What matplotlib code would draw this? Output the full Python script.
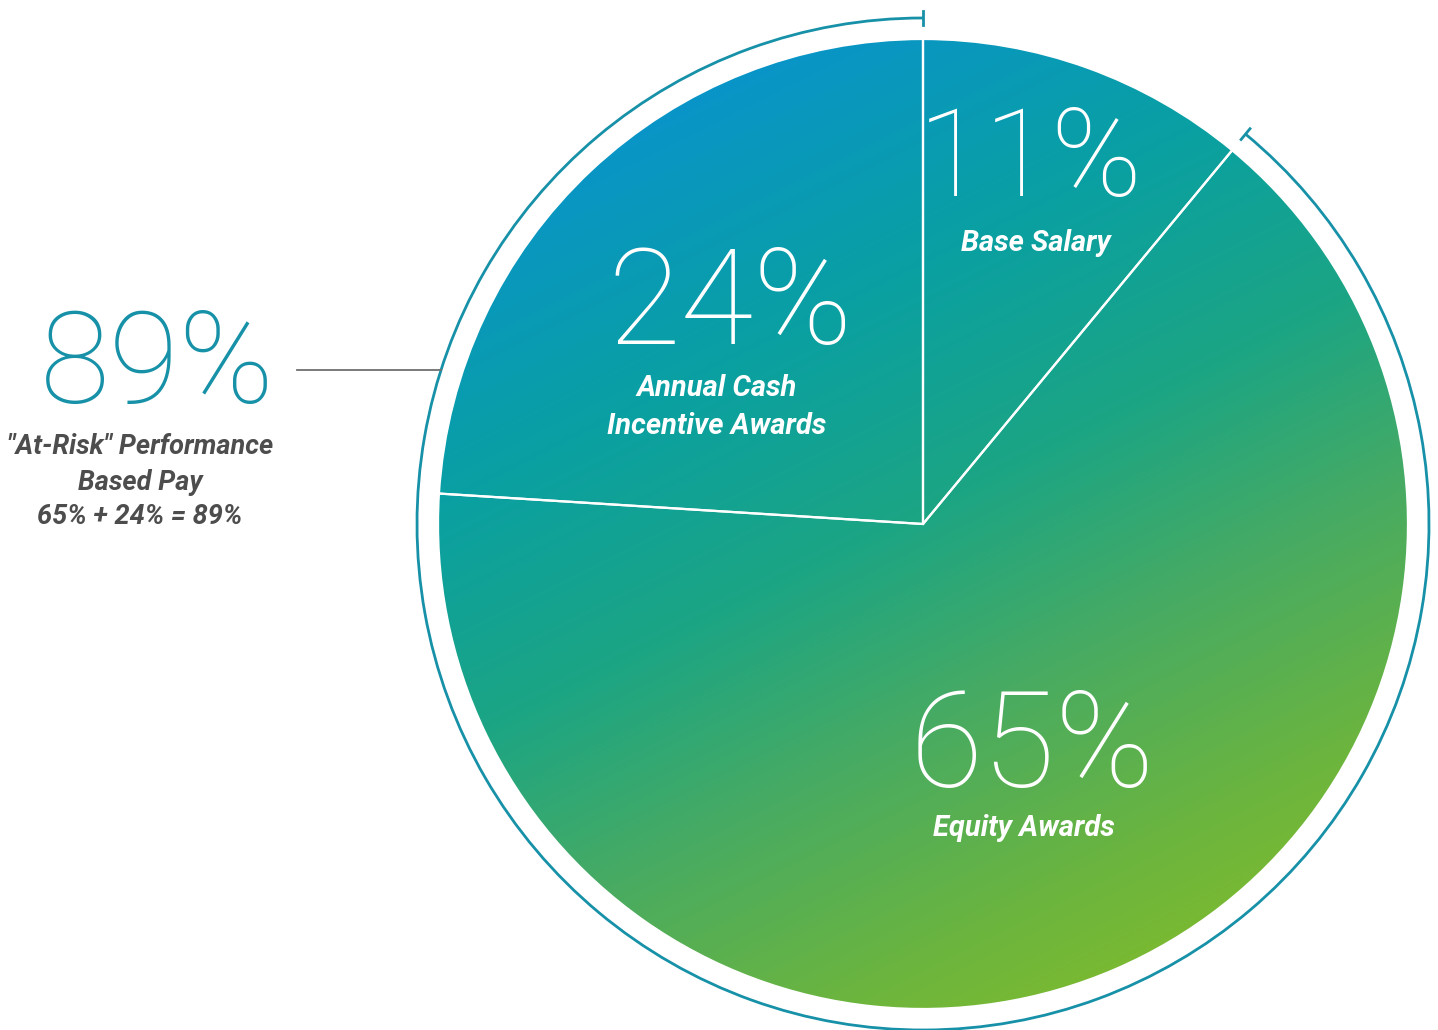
import numpy as np
import matplotlib
matplotlib.use("Agg")
import matplotlib.pyplot as plt
from matplotlib.patches import Circle, Arc
from matplotlib.colors import LinearSegmentedColormap

# data
labels = ["Base Salary", "Equity Awards", "Annual Cash\nIncentive Awards"]
shares = [11, 65, 24]
pct_text = ["11%", "65%", "24%"]
at_risk = 89
at_risk_lines = ['"At-Risk" Performance', "Based Pay", "65% + 24% = 89%"]

W, H = 1438, 1030
fig = plt.figure(figsize=(W / 100, H / 100), dpi=100)
ax = fig.add_axes([0, 0, 1, 1])

cx, cy, r = 923, H - 524, 485
r_arc = 506
teal = "#1791a8"

# gradient fill clipped to the pie disc (mostly top -> bottom, a bit left -> right)
gx = np.linspace(cx - r, cx + r, 400)
gy = np.linspace(cy - r, cy + r, 400)
X, Y = np.meshgrid(gx, gy)
t = (0.5 * (X - (cx - r)) + ((cy + r) - Y)) / (0.5 * 2 * r + 2 * r) * 1.12
cmap = LinearSegmentedColormap.from_list(
    "pay", [(0, "#0890d0"), (0.15, "#0995c6"), (0.36, "#0aa0a2"), (0.55, "#1ca584"),
            (0.72, "#48ab62"), (0.9, "#6cb53e"), (1, "#7cba30")])
img = ax.imshow(np.clip(t, 0, 1), extent=[cx - r, cx + r, cy - r, cy + r], origin="lower",
                cmap=cmap, vmin=0, vmax=1, interpolation="bilinear", zorder=1)
disc = Circle((cx, cy), r, transform=ax.transData)
img.set_clip_path(disc)

wedges, _ = ax.pie(shares, center=(cx, cy), radius=r, startangle=90, counterclock=False,
                   frame=True, wedgeprops=dict(facecolor="none", edgecolor="white", linewidth=1.6))
for w in wedges:
    w.set_zorder(2)
ax.set_xlim(0, W)
ax.set_ylim(0, H)
ax.set_aspect("equal")
ax.axis("off")

# outer arc covering the at-risk part
a_start = 90 - 360 * shares[0] / sum(shares)
ax.add_patch(Arc((cx, cy), 2 * r_arc, 2 * r_arc, theta1=90, theta2=a_start + 360,
                 color=teal, lw=2, zorder=3))
for a in (90, a_start):
    rad = np.deg2rad(a)
    ax.plot([cx + (r_arc - 7) * np.cos(rad), cx + (r_arc + 7) * np.cos(rad)],
            [cy + (r_arc - 7) * np.sin(rad), cy + (r_arc + 7) * np.sin(rad)],
            color=teal, lw=2, zorder=3)

# connector from 89% label to arc
ly = H - 370
lx_end = cx - np.sqrt(r_arc ** 2 - (ly - cy) ** 2)
ax.plot([297, lx_end], [ly, ly], color="#707070", lw=1.3, zorder=3)

thin = dict(family=["Roboto", "Lato", "DejaVu Sans"], fontweight=100,
            ha="center", va="center")
lab = dict(family=["Roboto", "DejaVu Sans"], fontstyle="italic", fontweight="bold",
           ha="center", va="center")

ax.text(157, H - 368, f"{at_risk}%", color=teal, fontsize=92, **thin)
pos_pct = [(1030, H - 162), (1032, H - 750), (730, H - 307)]
size_pct = [88, 96, 96]
pos_lab = [(1036, H - 243), (1024, H - 828), (717, H - 407)]
for s, p, fs, l, q in zip(pct_text, pos_pct, size_pct, labels, pos_lab):
    ax.text(p[0], p[1], s, color="white", zorder=4, fontsize=fs, **thin)
    ax.text(q[0], q[1], l, color="white", zorder=4, linespacing=1.5, fontsize=21, **lab)

for i, line in enumerate(at_risk_lines):
    ax.text(140, H - 447 - 35 * i, line, color="#4d4d4d", fontsize=19.5, **lab)

fig.savefig("out.png", dpi=100, facecolor="white")
